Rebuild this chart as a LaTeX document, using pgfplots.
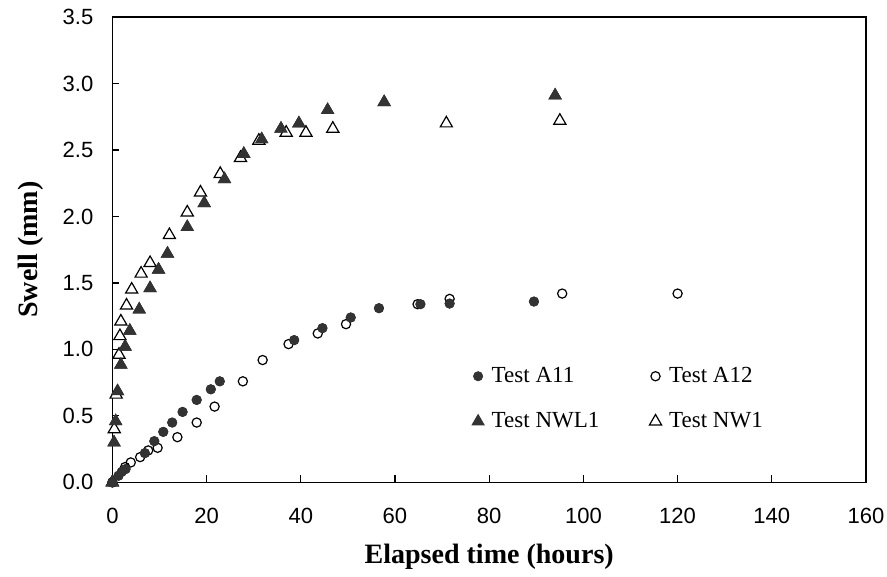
\documentclass[border=0pt]{standalone}
\usepackage{fontspec}
\setmainfont{Liberation Serif}
\newfontfamily\arialfont{Liberation Sans}
\usepackage{pgfplots}
\usepackage{pgfplotstable}
\pgfplotsset{compat=1.18}
\usetikzlibrary{calc}
\definecolor{dk}{HTML}{333333}

\pgfplotstableread{
x y
0 0
1.3 0.05
2.0 0.08
2.8 0.10
6.9 0.22
8.9 0.31
10.8 0.38
12.7 0.45
14.9 0.53
17.9 0.62
20.9 0.70
22.8 0.76
38.6 1.07
44.6 1.16
50.6 1.24
56.6 1.31
65.4 1.34
71.6 1.345
89.5 1.36
}\tabAeleven

\pgfplotstableread{
x y
0 0
2.7 0.115
3.9 0.15
5.9 0.19
7.6 0.24
9.6 0.26
13.8 0.34
17.9 0.45
21.7 0.57
27.7 0.76
31.9 0.92
37.4 1.04
43.6 1.12
49.6 1.19
64.8 1.34
71.6 1.38
95.5 1.42
120 1.42
}\tabAtwelve

\pgfplotstableread{
x y
0 0
0.35 0.30
0.7 0.46
1.1 0.685
1.8 0.885
2.7 1.02
3.7 1.14
5.7 1.30
8.0 1.46
9.8 1.60
11.7 1.72
15.9 1.92
19.5 2.10
23.8 2.28
27.9 2.47
31.7 2.58
35.8 2.66
39.6 2.70
45.7 2.80
57.7 2.86
94.0 2.91
}\tabNWLone

\pgfplotstableread{
x y
0 0
0.4 0.40
0.8 0.66
1.4 0.96
1.6 1.10
1.8 1.21
3.0 1.33
4.1 1.45
6.1 1.57
8.0 1.65
12.1 1.86
15.9 2.03
18.7 2.18
22.9 2.32
27.2 2.44
31.1 2.57
36.9 2.63
41.1 2.63
46.8 2.66
70.9 2.70
95.0 2.72
}\tabNWone

\begin{document}
\begin{tikzpicture}
\begin{axis}[
  scale only axis,
  width=376.5pt, height=232.5pt,
  xmin=0, xmax=160, ymin=0, ymax=3.5,
  xtick distance=20, ytick distance=0.5,
  xtick pos=bottom, ytick pos=left,
  tick align=inside,
  major tick length=3.5pt,
  axis line style={line width=0.75pt},
  every tick/.style={black, line width=0.6pt},
  /pgf/number format/assume math mode=true,
  ticklabel style={font=\arialfont\fontsize{11}{13}\selectfont},
  yticklabel style={/pgf/number format/fixed, /pgf/number format/fixed zerofill, /pgf/number format/precision=1, xshift=-6pt},
  xticklabel style={yshift=-9.5pt},
  xlabel={\textbf{Elapsed time (hours)}},
  ylabel={\textbf{Swell (mm)}},
  label style={font=\fontsize{14}{16}\selectfont},
  xlabel style={at={(rel axis cs:0.5,0)}, anchor=center, yshift=-37pt},
  ylabel style={at={(rel axis cs:0,0.5)}, anchor=center, yshift=41pt},
  legend columns=2,
  legend cell align=left,
  legend style={draw=none, fill=none, font=\fontsize{11.5}{13}\selectfont,
    at={(axis cs:75.0,0.93)}, anchor=north west,
    /tikz/every even column/.append style={column sep=23pt},
    row sep=9.5pt},
  legend image code/.code={\path[#1] plot coordinates {(0pt,0pt)};\path[draw=none,fill=none] (0pt,0pt) (4.8pt,0pt);},
  clip=false,
]
\addplot[only marks, mark=*, mark size=2.3pt, draw=dk, fill=dk] table {\tabAeleven};
\addlegendentry{Test A11}
\addplot[only marks, mark=o, mark size=2.3pt, mark options={draw=black, fill=white, line width=0.6pt}] table {\tabAtwelve};
\addlegendentry{Test A12}
\addplot[only marks, mark=triangle*, mark size=3.5pt, draw=dk, fill=dk] table {\tabNWLone};
\addlegendentry{Test NWL1}
\addplot[only marks, mark=triangle*, mark size=3.5pt, mark options={draw=black, fill=white, line width=0.6pt}] table {\tabNWone};
\addlegendentry{Test NW1}
\addplot[only marks, mark=*, mark size=2.3pt, draw=dk, fill=dk, forget plot] table {\tabAeleven};
\addplot[only marks, mark=triangle*, mark size=3.5pt, draw=dk, fill=dk, forget plot] table {\tabNWLone};
\end{axis}
\pgfresetboundingbox
\path ($(current axis.south west)+(-56.15pt,-47pt)$) rectangle ($(current axis.north east)+(10.5pt,8.5pt)$);
\end{tikzpicture}
\end{document}
